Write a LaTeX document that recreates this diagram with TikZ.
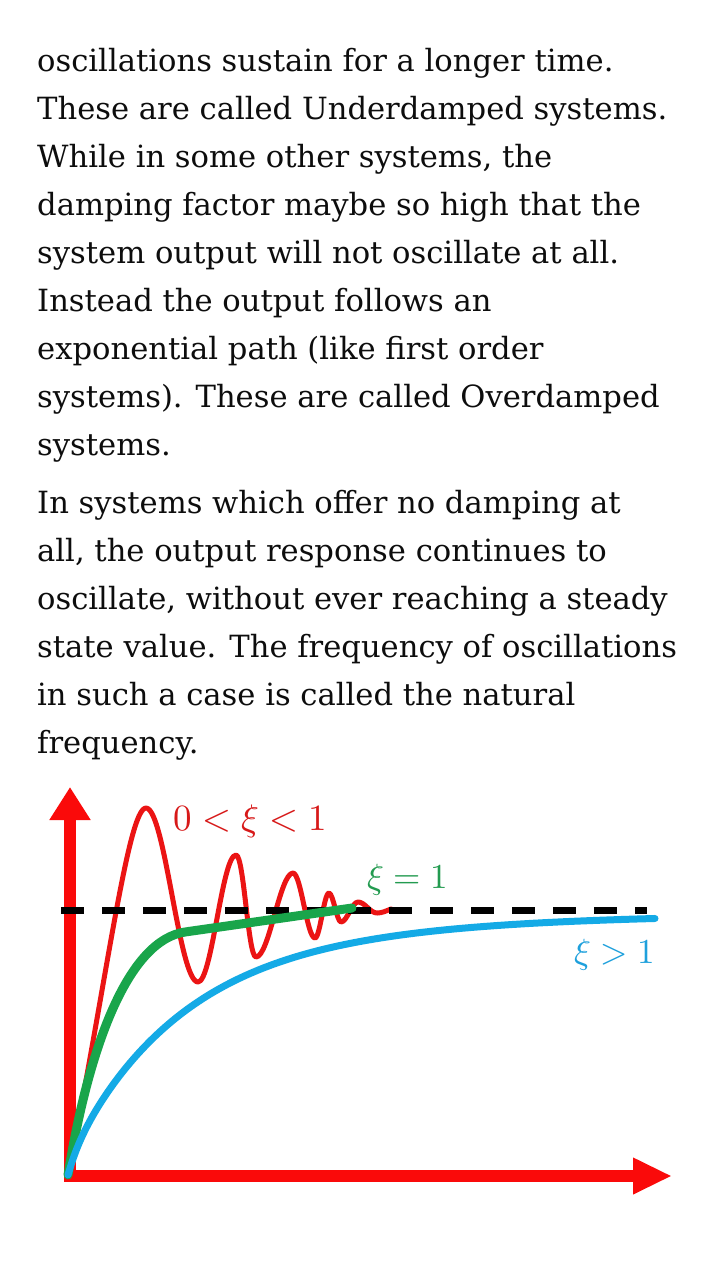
\documentclass[tikz,border=0pt]{standalone}
\usepackage{fontspec}
\usepackage{unicode-math}
\setmainfont{DejaVu Serif}
\setmathfont{Latin Modern Math}
\usetikzlibrary{arrows.meta}
\definecolor{axisred}{RGB}{250,10,10}
\definecolor{curvered}{RGB}{235,20,20}
\definecolor{labelred}{RGB}{215,25,25}
\definecolor{curvegreen}{RGB}{25,165,75}
\definecolor{labelgreen}{RGB}{35,155,80}
\definecolor{curveblue}{RGB}{20,170,230}
\definecolor{labelblue}{RGB}{30,160,220}
\tikzset{
  txt/.style={anchor=base west, inner sep=0pt, font=\fontsize{30.6}{36}\selectfont, text=black!95},
  lbl/.style={inner sep=0pt, font=\fontsize{35}{40}\selectfont},
  axis/.style={draw=axisred, line width=12pt, line join=miter,
    arrows={Triangle[length=33pt,width=39pt]-Triangle[length=39pt,width=34pt]}},
  ref/.style={draw=black, line width=7pt, dash pattern=on 23pt off 18pt},
}
\begin{document}
\begin{tikzpicture}[x=1pt,y=1pt]
\useasboundingbox (0,0) rectangle (720,-1280);
\fill[white] (0,0) rectangle (720,-1280);
% paragraph 1
\node[txt] (p1) at (37,-71) {oscillations sustain for a longer time.};
\node[txt] (p2) at (37,-119) {These are called Underdamped systems.};
\node[txt] (p3) at (37,-167) {While in some other systems, the};
\node[txt] (p4) at (37,-215) {damping factor maybe so high that the};
\node[txt] (p5) at (37,-263) {system output will not oscillate at all.};
\node[txt] (p6) at (37,-311) {Instead the output follows an};
\node[txt] (p7) at (37,-359) {exponential path (like first order};
\node[txt] (p8) at (37,-407) {systems). These are called Overdamped};
\node[txt] (p9) at (37,-455) {systems.};
% paragraph 2
\node[txt] (q1) at (37,-513) {In systems which offer no damping at};
\node[txt] (q2) at (37,-561) {all, the output response continues to};
\node[txt] (q3) at (37,-609) {oscillate, without ever reaching a steady};
\node[txt] (q4) at (37,-657) {state value. The frequency of oscillations};
\node[txt] (q5) at (37,-705) {in such a case is called the natural};
\node[txt] (q6) at (37,-753) {frequency.};
% axes
\coordinate (O) at (70,-1176);
\coordinate (Ytip) at (70,-787);
\coordinate (Xtip) at (672,-1176);
\path[axis] (Ytip) -- (O) -- (Xtip);
% underdamped
\draw[curvered, line width=5pt, line cap=round, line join=round]
  (68,-1175) .. controls (106,-985) and (128,-808) .. (146,-808)
  .. controls +(19,0) and +(-19,0) .. (198,-982)
  .. controls +(14,0) and +(-14,0) .. (236,-855)
  .. controls +(8,0) and +(-8,0) .. (256,-957)
  .. controls +(13,0) and +(-13,0) .. (293,-873)
  .. controls +(8,0) and +(-8,0) .. (315,-938)
  .. controls +(5,0) and +(-5,0) .. (329,-893)
  .. controls +(4,0) and +(-4,0) .. (341,-922)
  .. controls +(6,0) and +(-6,0) .. (358,-902)
  .. controls +(7,0) and +(-7,0) .. (377,-913)
  .. controls +(5,0) and +(-5,-2) .. (391,-909);
% steady-state reference
\coordinate (R1) at (61,-910);
\coordinate (R2) at (647,-910);
\path[ref] (R1) -- (R2);
% critically damped
\coordinate (G0) at (68,-1175);
\coordinate (Gk) at (185,-932);
\coordinate (G1) at (352,-908);
\draw[curvegreen, line width=9pt, line cap=round, line join=round]
  (G0) .. controls (90,-1040) and (130,-940) .. (Gk) -- (G1);
% overdamped
\draw[curveblue, line width=7pt, line cap=round, line join=round]
  plot[domain=68:655, samples=150, smooth] (\x, {-(912 + 35*exp(-0.0032*(\x-68)) + 212*exp(-0.0089*(\x-68)) + 16*exp(-0.1*(\x-68)))});
% labels
\node[lbl, text=labelred, font=\fontsize{37}{42}\selectfont] (lu) at (250,-821) {$0<\xi<1$};
\node[lbl, text=labelgreen] (lc) at (408,-880) {$\xi=1$};
\node[lbl, text=labelblue] (lo) at (615,-955) {$\xi>1$};
\end{tikzpicture}
\end{document}
